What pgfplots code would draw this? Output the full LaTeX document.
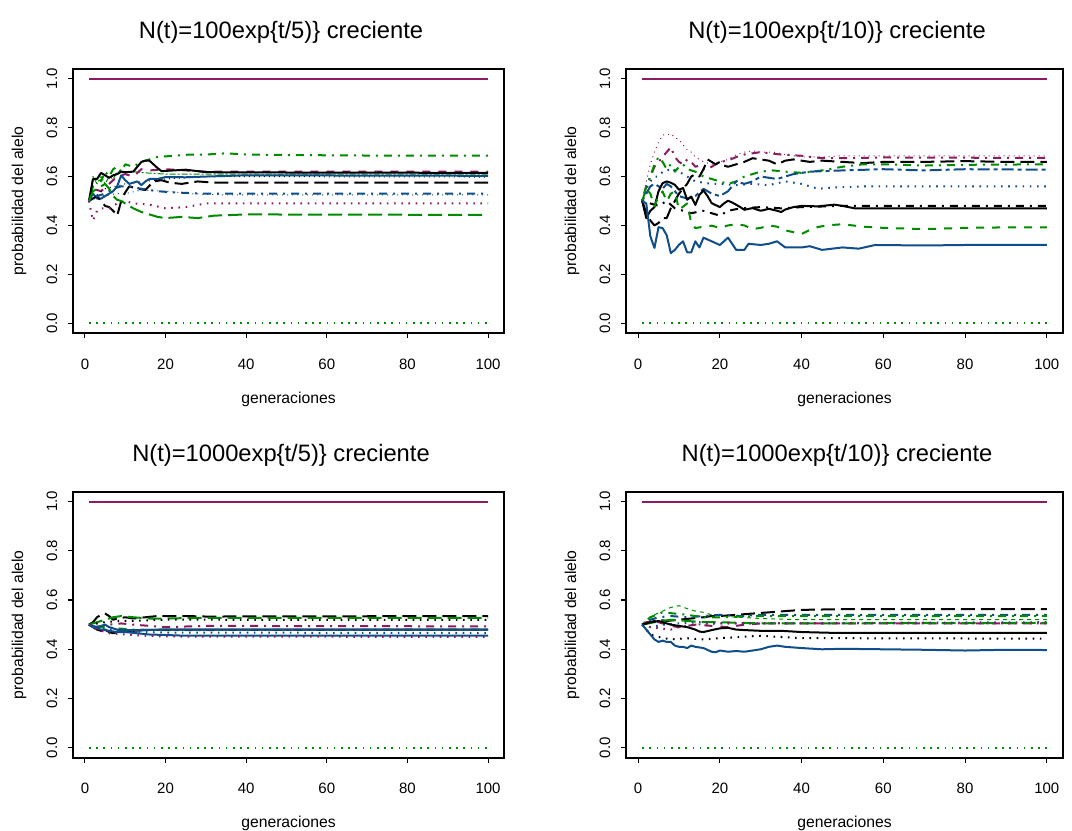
\documentclass[border=0pt]{standalone}
\usepackage{fontspec}
\setmainfont{Liberation Sans}
\usepackage{pgfplots}
\pgfplotsset{compat=1.18}
\definecolor{cM}{RGB}{139,28,98}
\definecolor{cG}{RGB}{0,139,0}
\definecolor{cB}{RGB}{16,78,139}
\tikzset{
 lwA/.style={line width=0.75pt, line join=round},
 lwB/.style={line width=1.5pt, line join=round},
 lS/.style={solid},
 lD/.style={dash pattern=on 3pt off 3pt},
 lO/.style={dash pattern=on 0.75pt off 3pt},
 lDD/.style={dash pattern=on 0.75pt off 2.25pt on 3pt off 2.25pt},
 lL/.style={dash pattern=on 5.25pt off 2.25pt},
 lT/.style={dash pattern=on 1.5pt off 1.5pt on 4.5pt off 1.5pt},
 lDb/.style={dash pattern=on 6pt off 6pt},
 lOb/.style={dash pattern=on 1.2pt off 4.2pt},
 lDDb/.style={dash pattern=on 1.5pt off 4.5pt on 6pt off 4.5pt},
 lLb/.style={dash pattern=on 10.5pt off 4.5pt},
 lTb/.style={dash pattern=on 3pt off 3pt on 9pt off 3pt},
}
\pgfplotsset{
 rpanel/.style={
  scale only axis, anchor=south west,
  xmin=-2.96, xmax=103.96, ymin=-0.04, ymax=1.04,
  xtick={0,20,40,60,80,100}, ytick={0,0.2,0.4,0.6,0.8,1},
  xtick pos=left, ytick pos=left,
  tick align=outside, major tick length=3.75pt,
  tick style={black, line width=0.8pt},
  axis line style={line width=1.3pt},
  /pgf/number format/assume math mode=true,
  ticklabel style={font=\fontsize{11.25}{13}\selectfont},
  xticklabel style={anchor=center, yshift=-19.5pt},
  yticklabel style={xshift=-12pt, rotate=90, anchor=center, /pgf/number format/fixed, /pgf/number format/fixed zerofill, /pgf/number format/precision=1},
  label style={font=\fontsize{11.8}{14}\selectfont},
  xlabel={generaciones}, ylabel={probabilidad del alelo},
  xlabel style={at={(axis description cs:0.5,-0.252)}, anchor=center},
  title style={font=\fontsize{17.8}{20}\selectfont, at={(axis description cs:0.5,1)}, anchor=base, yshift=16.5pt, xshift=-5.6pt},
 }
}
\begin{document}
\begin{tikzpicture}
\path[use as bounding box] (0,0) rectangle (804pt,623.25pt);
% ---------------- Panel 1
\begin{axis}[rpanel, at={(54.75pt,373.5pt)}, width=323.25pt, height=198pt,
 ylabel style={at={(axis description cs:-0.1253,0.5)}, anchor=center},
 title={N(t)=100exp\{t/5)\} creciente}]
\addplot[cM, lwB, lS] coordinates {(1,1)(100,1)};
\addplot[cG, lwB, lOb] coordinates {(1,0)(100,0)};
\addplot[cG, lwB, lDDb] coordinates {(1,0.5)(2,0.56)(3,0.6)(4,0.58)(5,0.62)(6,0.6)(7,0.63)(8,0.64)(9,0.62)(10,0.65)(12,0.64)(14,0.66)(16,0.67)(18,0.68)(22,0.685)(26,0.69)(30,0.69)(35,0.695)(40,0.69)(50,0.688)(60,0.687)(70,0.686)(100,0.686)};
\addplot[cG, lwA, lT] coordinates {(1,0.5)(2,0.6)(3,0.57)(4,0.6)(5,0.57)(6,0.6)(7,0.59)(8,0.62)(10,0.615)(12,0.62)(15,0.615)(20,0.61)(100,0.61)};
\addplot[cM, lwB, lDb] coordinates {(1,0.5)(2,0.55)(4,0.54)(6,0.57)(8,0.6)(10,0.61)(12,0.6)(14,0.63)(16,0.625)(20,0.63)(25,0.625)(30,0.62)(40,0.62)(100,0.62)};
\addplot[black, lwA, lO] coordinates {(1,0.5)(5,0.55)(10,0.57)(20,0.59)(30,0.6)(100,0.598)};
\addplot[black, lwB, lS] coordinates {(1,0.5)(2,0.59)(3,0.59)(4,0.615)(5,0.605)(6,0.595)(7,0.605)(8,0.61)(9,0.62)(10,0.618)(12,0.62)(13,0.64)(14,0.66)(15,0.665)(16,0.665)(17,0.65)(18,0.635)(19,0.622)(20,0.623)(22,0.625)(25,0.628)(28,0.622)(30,0.618)(35,0.617)(100,0.615)};
\addplot[cB, lwB, lS] coordinates {(1,0.5)(2,0.53)(3,0.51)(4,0.51)(5,0.52)(6,0.53)(7,0.54)(8,0.56)(9,0.605)(10,0.585)(11,0.57)(12,0.575)(13,0.58)(14,0.565)(15,0.58)(16,0.59)(18,0.59)(20,0.598)(25,0.597)(30,0.6)(40,0.605)(100,0.603)};
\addplot[black, lwB, lLb] coordinates {(1,0.5)(3,0.52)(5,0.48)(6,0.475)(7,0.46)(8,0.44)(9,0.5)(10,0.535)(11,0.56)(13,0.55)(15,0.545)(17,0.58)(19,0.585)(21,0.575)(24,0.57)(28,0.58)(32,0.575)(40,0.575)(100,0.575)};
\addplot[cB, lwB, lDDb] coordinates {(1,0.5)(3,0.52)(5,0.53)(7,0.55)(9,0.56)(11,0.56)(14,0.55)(18,0.54)(22,0.535)(30,0.53)(100,0.53)};
\addplot[cB, lwA, lO] coordinates {(1,0.5)(4,0.52)(8,0.53)(10,0.53)(14,0.545)(20,0.54)(26,0.53)(35,0.525)(100,0.525)};
\addplot[cM, lwB, lOb] coordinates {(1,0.5)(2,0.42)(3,0.46)(4,0.47)(6,0.47)(8,0.49)(10,0.5)(12,0.49)(16,0.485)(20,0.47)(25,0.475)(30,0.49)(100,0.49)};
\addplot[cG, lwB, lLb] coordinates {(1,0.5)(2,0.54)(3,0.55)(4,0.56)(5,0.57)(6,0.55)(7,0.52)(8,0.505)(9,0.5)(10,0.49)(12,0.47)(14,0.455)(16,0.445)(18,0.435)(20,0.43)(24,0.435)(28,0.43)(32,0.44)(40,0.445)(100,0.443)};
\end{axis}
% ---------------- Panel 2
\begin{axis}[rpanel, at={(469.5pt,373.5pt)}, width=327.75pt, height=198pt,
 ylabel style={at={(axis description cs:-0.1236,0.5)}, anchor=center},
 title={N(t)=100exp\{t/10)\} creciente}]
\addplot[cM, lwB, lS] coordinates {(1,1)(100,1)};
\addplot[cG, lwB, lOb] coordinates {(1,0)(100,0)};
\addplot[cM, lwA, lO] coordinates {(1,0.5)(2,0.58)(3,0.65)(4,0.7)(5,0.74)(6,0.77)(7,0.77)(8,0.775)(9,0.76)(10,0.75)(11,0.73)(12,0.71)(13,0.7)(14,0.68)(15,0.67)(16,0.66)(18,0.65)(20,0.66)(22,0.67)(24,0.69)(26,0.7)(28,0.705)(30,0.7)(33,0.7)(36,0.69)(40,0.68)(45,0.68)(50,0.685)(60,0.685)(70,0.685)(100,0.685)};
\addplot[cM, lwB, lDDb] coordinates {(1,0.5)(2,0.56)(3,0.6)(4,0.64)(5,0.66)(6,0.68)(7,0.7)(8,0.72)(9,0.68)(10,0.66)(11,0.65)(12,0.67)(13,0.66)(14,0.64)(15,0.645)(16,0.63)(18,0.64)(20,0.66)(22,0.665)(24,0.68)(26,0.69)(28,0.695)(30,0.7)(32,0.695)(35,0.69)(40,0.685)(45,0.675)(50,0.675)(60,0.678)(100,0.676)};
\addplot[black, lwB, lLb] coordinates {(1,0.5)(2,0.45)(3,0.42)(4,0.4)(5,0.41)(6,0.43)(7,0.43)(8,0.47)(9,0.5)(10,0.53)(11,0.55)(12,0.57)(13,0.6)(14,0.61)(15,0.6)(16,0.63)(17,0.67)(18,0.66)(19,0.65)(20,0.66)(21,0.645)(22,0.64)(24,0.65)(26,0.66)(28,0.675)(30,0.67)(32,0.665)(34,0.65)(36,0.665)(38,0.67)(40,0.665)(42,0.66)(45,0.665)(50,0.66)(55,0.655)(60,0.66)(70,0.66)(80,0.663)(90,0.66)(100,0.66)};
\addplot[cG, lwB, lDDb] coordinates {(1,0.5)(2,0.56)(3,0.6)(4,0.65)(5,0.68)(6,0.66)(7,0.63)(8,0.65)(9,0.62)(10,0.64)(11,0.65)(12,0.63)(14,0.62)(16,0.6)(18,0.59)(20,0.58)(22,0.57)(24,0.58)(26,0.6)(28,0.61)(30,0.62)(33,0.625)(36,0.62)(40,0.615)(45,0.625)(50,0.64)(55,0.65)(60,0.65)(70,0.645)(80,0.648)(100,0.65)};
\addplot[cB, lwB, lTb] coordinates {(1,0.5)(2,0.53)(3,0.56)(4,0.57)(5,0.56)(6,0.55)(7,0.57)(8,0.56)(9,0.54)(10,0.52)(12,0.51)(14,0.52)(16,0.55)(18,0.53)(20,0.52)(22,0.54)(24,0.58)(26,0.57)(28,0.58)(30,0.6)(34,0.59)(38,0.61)(42,0.62)(50,0.625)(60,0.63)(70,0.625)(80,0.63)(100,0.628)};
\addplot[cB, lwB, lOb] coordinates {(1,0.5)(2,0.55)(3,0.58)(4,0.6)(5,0.6)(6,0.62)(8,0.63)(10,0.62)(12,0.6)(14,0.58)(16,0.575)(18,0.57)(20,0.57)(24,0.565)(28,0.57)(32,0.565)(36,0.58)(40,0.57)(44,0.55)(48,0.555)(55,0.56)(100,0.56)};
\addplot[black, lwB, lDDb] coordinates {(1,0.5)(3,0.49)(5,0.48)(7,0.5)(9,0.47)(11,0.46)(13,0.45)(16,0.46)(20,0.44)(22,0.46)(25,0.47)(30,0.475)(35,0.47)(40,0.475)(50,0.48)(60,0.48)(100,0.48)};
\addplot[black, lwB, lS] coordinates {(1,0.5)(2,0.43)(3,0.46)(4,0.475)(5,0.54)(6,0.573)(7,0.58)(8,0.575)(9,0.566)(10,0.546)(11,0.553)(12,0.505)(13,0.518)(14,0.484)(15,0.525)(16,0.543)(17,0.52)(18,0.491)(20,0.475)(21,0.49)(22,0.501)(23,0.494)(25,0.475)(26,0.464)(28,0.471)(30,0.46)(32,0.468)(34,0.46)(35,0.455)(36,0.465)(38,0.475)(40,0.48)(44,0.478)(48,0.485)(50,0.48)(53,0.47)(60,0.47)(70,0.47)(100,0.47)};
\addplot[cG, lwB, lDb] coordinates {(1,0.5)(2,0.55)(3,0.53)(4,0.478)(5,0.52)(6,0.539)(7,0.498)(8,0.53)(9,0.539)(10,0.464)(12,0.49)(13,0.41)(14,0.389)(16,0.395)(18,0.399)(20,0.39)(22,0.4)(24,0.405)(26,0.4)(28,0.385)(30,0.39)(32,0.4)(34,0.395)(36,0.38)(40,0.365)(43,0.39)(46,0.4)(50,0.405)(55,0.395)(60,0.39)(70,0.385)(80,0.39)(90,0.392)(100,0.392)};
\addplot[cB, lwB, lS] coordinates {(1,0.5)(2,0.49)(3,0.355)(4,0.308)(5,0.393)(6,0.389)(7,0.36)(8,0.287)(9,0.3)(10,0.321)(11,0.335)(12,0.29)(13,0.29)(14,0.335)(15,0.31)(16,0.35)(18,0.335)(20,0.32)(22,0.35)(24,0.3)(26,0.3)(27,0.325)(30,0.32)(32,0.325)(34,0.335)(36,0.31)(40,0.31)(42,0.315)(45,0.3)(50,0.31)(54,0.305)(58,0.32)(70,0.318)(80,0.32)(100,0.32)};
\end{axis}
% ---------------- Panel 3
\begin{axis}[rpanel, at={(54.75pt,55pt)}, width=323.25pt, height=199.5pt,
 ylabel style={at={(axis description cs:-0.1253,0.5)}, anchor=center},
 xlabel style={at={(axis description cs:0.5,-0.247)}},
 title={N(t)=1000exp\{t/5)\} creciente}]
\addplot[cM, lwB, lS] coordinates {(1,1)(100,1)};
\addplot[cG, lwB, lOb] coordinates {(1,0)(100,0)};
\addplot[black, lwB, lLb] coordinates {(1,0.5)(2,0.51)(3,0.53)(4,0.54)(5,0.545)(6,0.535)(7,0.52)(8,0.525)(10,0.53)(12,0.525)(15,0.53)(18,0.535)(20,0.535)(25,0.535)(30,0.533)(100,0.535)};
\addplot[cG, lwB, lLb] coordinates {(1,0.5)(3,0.51)(5,0.52)(7,0.53)(9,0.535)(12,0.53)(16,0.525)(20,0.525)(30,0.528)(100,0.528)};
\addplot[black, lwB, lOb] coordinates {(1,0.5)(3,0.505)(5,0.51)(8,0.515)(12,0.515)(20,0.52)(30,0.52)(100,0.519)};
\addplot[cM, lwB, lDDb] coordinates {(1,0.5)(3,0.49)(6,0.5)(9,0.505)(12,0.5)(16,0.495)(20,0.49)(30,0.495)(100,0.493)};
\addplot[cG, lwB, lDDb] coordinates {(1,0.5)(4,0.49)(8,0.485)(12,0.48)(20,0.478)(100,0.48)};
\addplot[black, lwB, lS] coordinates {(1,0.5)(2,0.49)(3,0.48)(4,0.475)(5,0.48)(6,0.47)(7,0.465)(8,0.47)(9,0.475)(10,0.47)(12,0.475)(15,0.478)(20,0.48)(30,0.48)(100,0.48)};
\addplot[cB, lwB, lS] coordinates {(1,0.5)(2,0.495)(3,0.49)(4,0.495)(5,0.5)(6,0.49)(7,0.485)(8,0.48)(10,0.478)(14,0.478)(20,0.48)(100,0.48)};
\addplot[cB, lwB, lOb] coordinates {(1,0.5)(3,0.49)(6,0.48)(10,0.475)(15,0.47)(20,0.468)(100,0.466)};
\addplot[cB, lwB, lS] coordinates {(1,0.5)(2,0.49)(4,0.48)(6,0.475)(8,0.47)(10,0.47)(13,0.465)(16,0.46)(20,0.458)(25,0.455)(100,0.455)};
\addplot[cM, lwB, lOb] coordinates {(1,0.5)(3,0.48)(6,0.465)(10,0.46)(15,0.455)(20,0.452)(100,0.45)};
\end{axis}
% ---------------- Panel 4
\begin{axis}[rpanel, at={(469.5pt,55pt)}, width=327.75pt, height=199.5pt,
 ylabel style={at={(axis description cs:-0.1236,0.5)}, anchor=center},
 xlabel style={at={(axis description cs:0.5,-0.247)}},
 title={N(t)=1000exp\{t/10)\} creciente}]
\addplot[cM, lwB, lS] coordinates {(1,1)(100,1)};
\addplot[cG, lwB, lOb] coordinates {(1,0)(100,0)};
\addplot[black, lwB, lLb] coordinates {(1,0.5)(3,0.51)(5,0.52)(7,0.515)(10,0.52)(13,0.525)(16,0.53)(18,0.535)(20,0.535)(24,0.54)(28,0.545)(32,0.55)(36,0.555)(40,0.56)(50,0.563)(100,0.563)};
\addplot[cG, lwA, lD] coordinates {(1,0.5)(2,0.52)(4,0.54)(6,0.555)(8,0.57)(10,0.577)(12,0.565)(14,0.555)(16,0.55)(18,0.54)(20,0.535)(25,0.53)(30,0.525)(40,0.52)(50,0.52)(100,0.52)};
\addplot[cB, lwB, lDDb] coordinates {(1,0.5)(3,0.52)(5,0.53)(8,0.535)(12,0.53)(16,0.535)(20,0.54)(25,0.535)(30,0.54)(100,0.54)};
\addplot[cG, lwB, lDDb] coordinates {(1,0.5)(3,0.53)(6,0.55)(9,0.545)(12,0.54)(16,0.53)(20,0.53)(30,0.535)(100,0.535)};
\addplot[cM, lwB, lDb] coordinates {(1,0.5)(2,0.51)(4,0.515)(6,0.505)(8,0.495)(10,0.49)(12,0.495)(14,0.5)(18,0.495)(22,0.49)(26,0.5)(30,0.505)(100,0.505)};
\addplot[cG, lwB, lLb] coordinates {(1,0.5)(4,0.51)(8,0.52)(12,0.515)(16,0.51)(20,0.51)(30,0.505)(100,0.507)};
\addplot[cB, lwB, lOb] coordinates {(1,0.5)(3,0.49)(6,0.5)(10,0.505)(15,0.51)(20,0.505)(100,0.51)};
\addplot[cM, lwB, lOb] coordinates {(1,0.5)(3,0.49)(5,0.485)(8,0.48)(10,0.49)(14,0.5)(20,0.505)(100,0.505)};
\addplot[black, lwB, lS] coordinates {(1,0.5)(2,0.505)(3,0.51)(4,0.512)(5,0.515)(6,0.51)(7,0.505)(8,0.5)(10,0.495)(12,0.49)(14,0.48)(15,0.472)(16,0.47)(18,0.478)(20,0.485)(22,0.487)(24,0.48)(26,0.478)(30,0.475)(35,0.475)(40,0.47)(47,0.467)(100,0.467)};
\addplot[black, lwB, lOb] coordinates {(1,0.5)(3,0.46)(5,0.45)(8,0.44)(12,0.445)(16,0.44)(20,0.445)(25,0.45)(30,0.455)(40,0.445)(50,0.445)(100,0.443)};
\addplot[cB, lwB, lS] coordinates {(1,0.5)(2,0.48)(3,0.46)(4,0.44)(5,0.43)(6,0.435)(7,0.43)(8,0.43)(9,0.415)(10,0.41)(11,0.41)(12,0.405)(13,0.415)(14,0.41)(16,0.405)(18,0.39)(19,0.388)(20,0.395)(22,0.39)(24,0.393)(26,0.39)(28,0.395)(30,0.4)(32,0.41)(34,0.415)(36,0.41)(40,0.405)(45,0.4)(50,0.402)(60,0.4)(70,0.398)(80,0.395)(90,0.398)(100,0.397)};
\end{axis}
\end{tikzpicture}
\end{document}
